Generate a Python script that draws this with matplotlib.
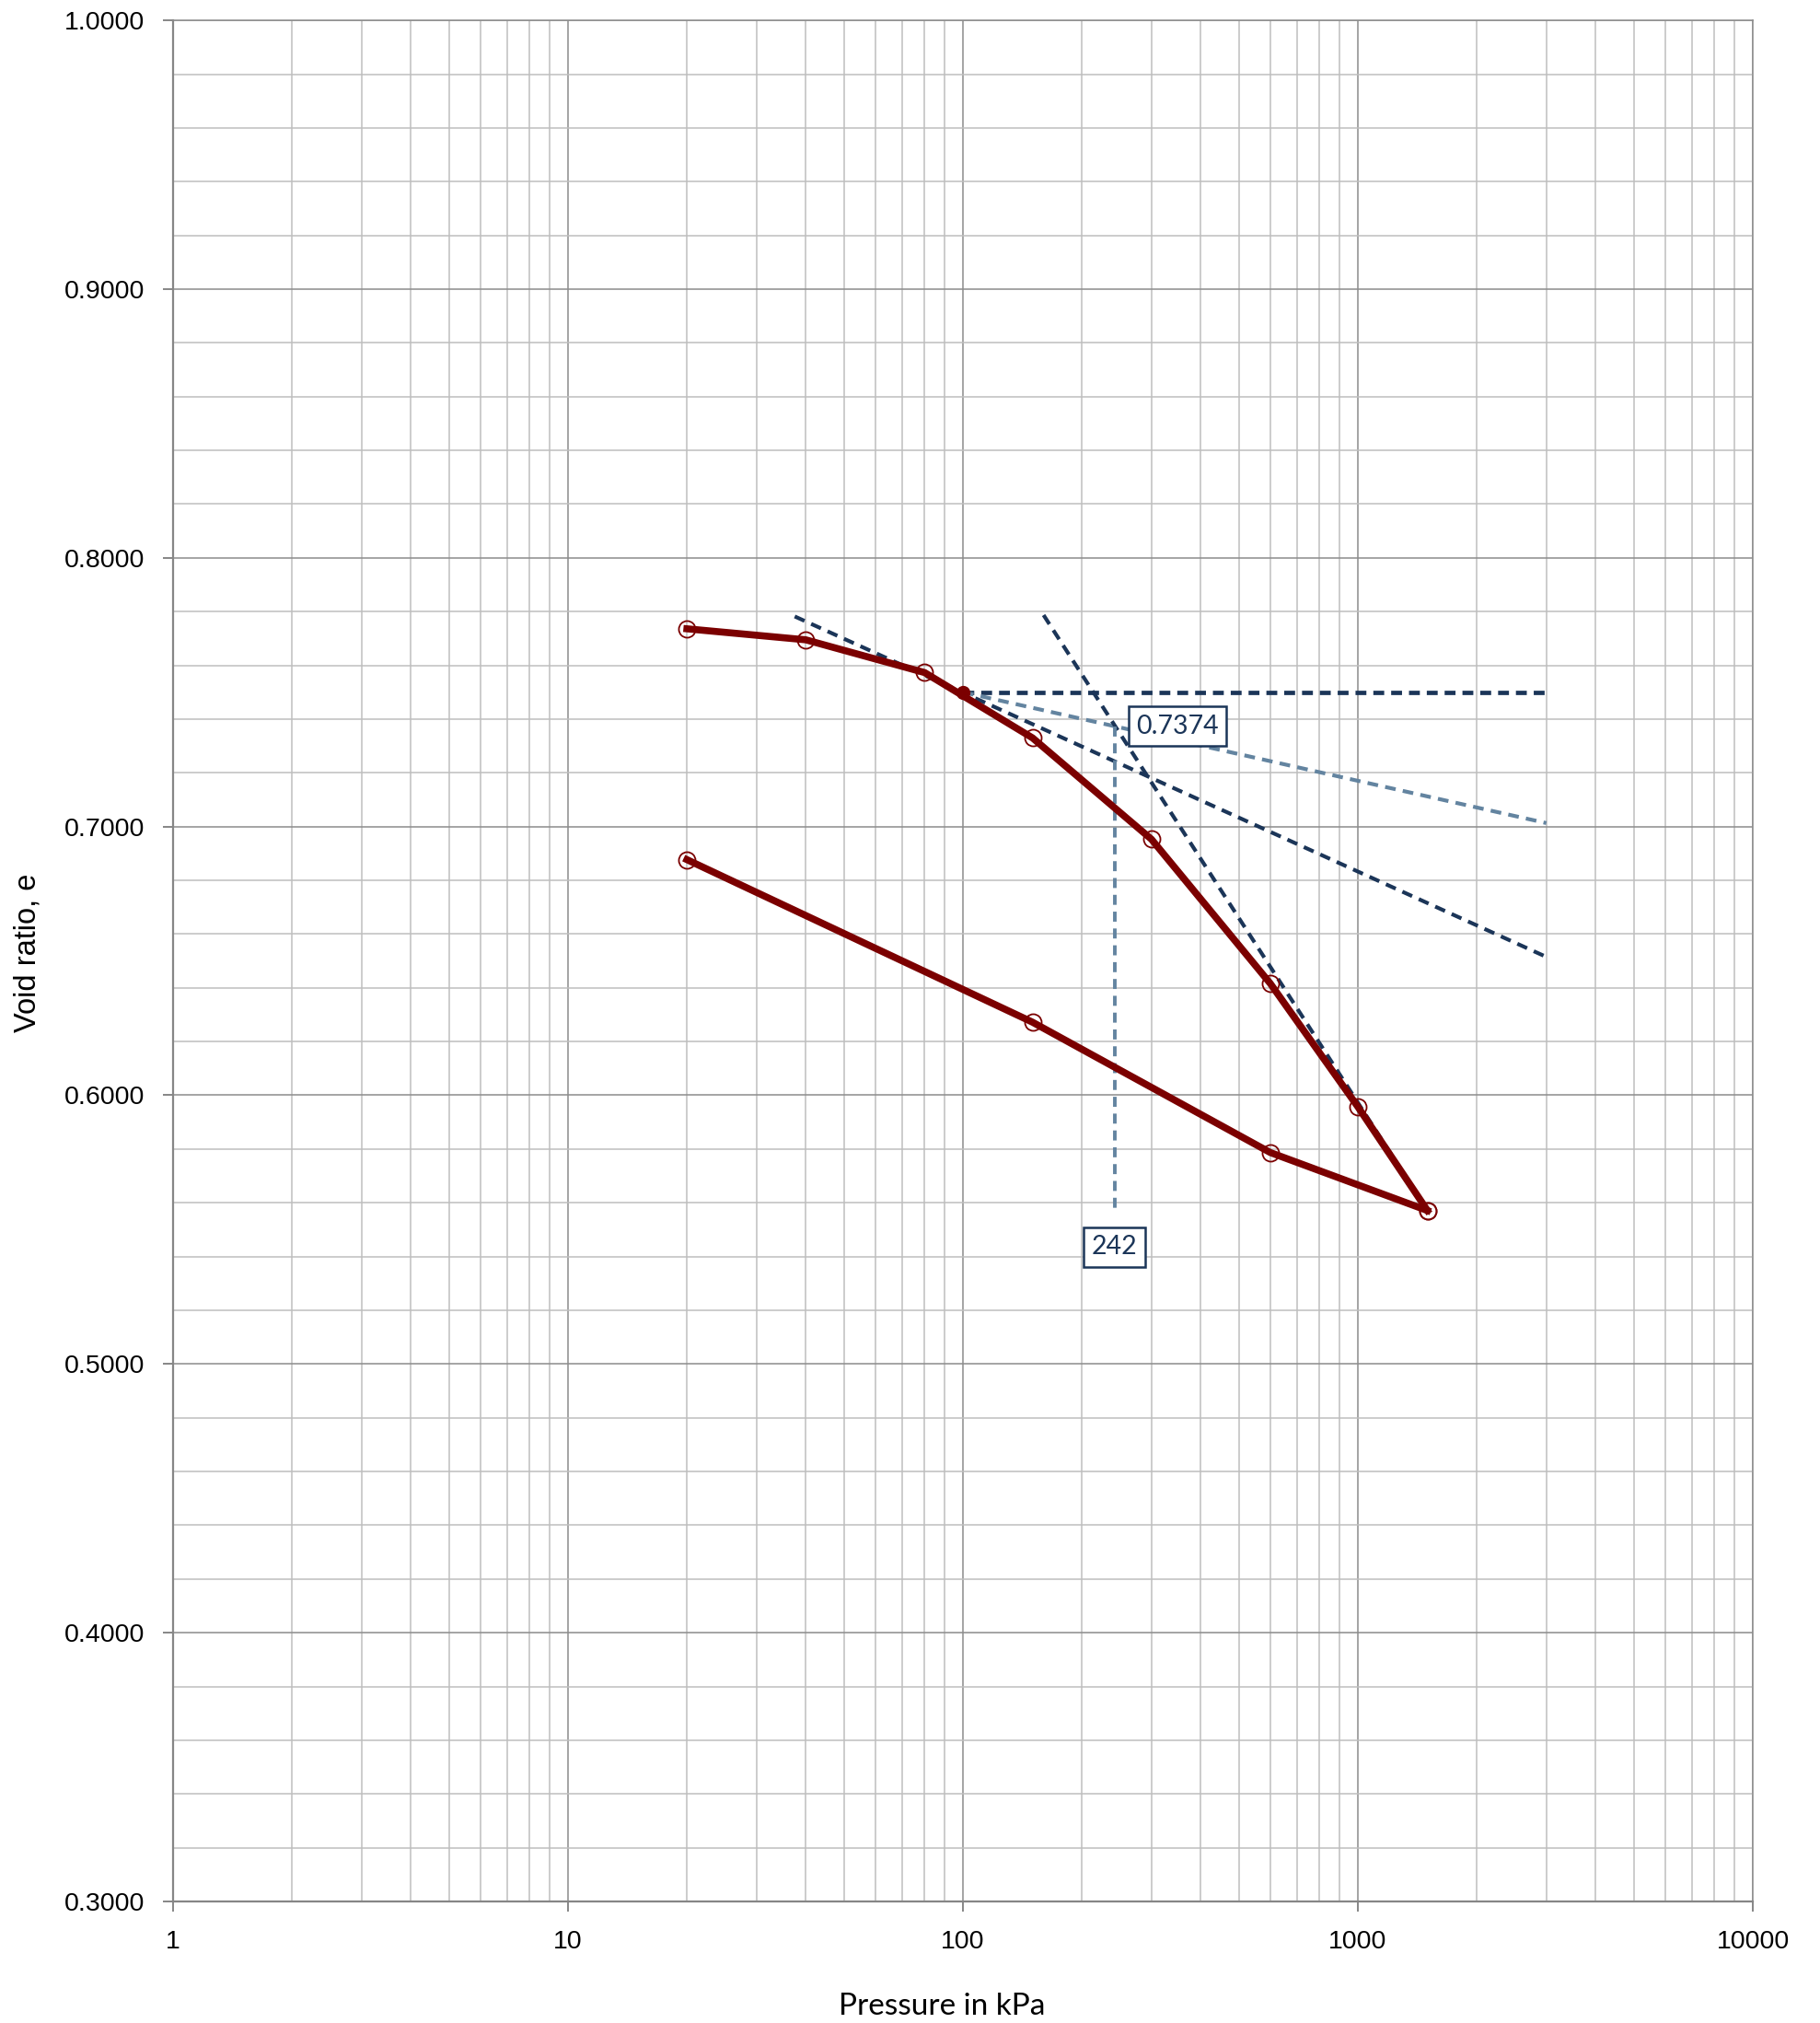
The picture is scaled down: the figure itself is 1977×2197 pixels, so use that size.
import numpy as np
import matplotlib
matplotlib.use("Agg")
import matplotlib.pyplot as plt
from matplotlib.ticker import LogLocator, MultipleLocator, FixedLocator, FuncFormatter

# e - log p data
load_p = [20, 40, 80, 150, 300, 600, 1000, 1500]
load_e = [0.7736, 0.7695, 0.7573, 0.7330, 0.6953, 0.6416, 0.5957, 0.5571]
unload_p = [1500, 600, 150, 20]
unload_e = [0.5571, 0.5787, 0.6272, 0.6877]

# Casagrande construction
max_curv_p = 100
max_curv_e = 0.7500
horiz_p = [100, 3000]
horiz_e = [0.7500, 0.7500]
tangent_p = [37.5, 3000]
tangent_e = [0.7782, 0.6515]
bisect_p = [100, 3000]
bisect_e = [0.7500, 0.7013]
virgin_p = [160, 1500]
virgin_e = [0.7787, 0.5571]
pc = 242
e_pc = 0.7374
drop_e = [0.7374, 0.5568]

red = "#7B0000"
navy = "#1B3558"
slate = "#6384A0"

fig = plt.figure(figsize=(19.77, 21.97), dpi=100)
ax = fig.add_axes([0.0951, 0.0601, 0.9631 - 0.0951, 0.9899 - 0.0601])

ax.set_xscale("log")
ax.set_xlim(1, 10000)
ax.set_ylim(0.3, 1.0)

ax.xaxis.set_major_locator(FixedLocator([1, 10, 100, 1000, 10000]))
ax.xaxis.set_minor_locator(LogLocator(base=10, subs=np.arange(2, 10)))
ax.xaxis.set_major_formatter(FuncFormatter(lambda v, p: "%d" % round(v)))
ax.xaxis.set_minor_formatter(FuncFormatter(lambda v, p: ""))
ax.yaxis.set_major_locator(MultipleLocator(0.1))
ax.yaxis.set_minor_locator(MultipleLocator(0.02))
ax.yaxis.set_major_formatter(FuncFormatter(lambda v, p: "%.4f" % v))

ax.grid(which="major", color="#8C8C8C", linewidth=1.1)
ax.grid(which="minor", color="#BEBEBE", linewidth=1.1)
ax.set_axisbelow(True)

for s in ["top", "right"]:
    ax.spines[s].set_color("#8C8C8C")
    ax.spines[s].set_linewidth(1.1)
for s in ["left", "bottom"]:
    ax.spines[s].set_color("#868686")
    ax.spines[s].set_linewidth(1.6)

ax.tick_params(which="major", length=8, width=1.4, color="#868686",
               labelsize=20.5, pad=14, labelfontfamily="Liberation Sans")
ax.tick_params(which="minor", length=0)

dash = (2.8, 1.9)
ax.plot(horiz_p, horiz_e, color=navy, lw=3.4, dashes=(2.5, 1.6), zorder=3)
ax.plot(tangent_p, tangent_e, color=navy, lw=3.0, dashes=dash, zorder=3)
ax.plot(bisect_p, bisect_e, color=slate, lw=3.0, dashes=dash, zorder=3)
ax.plot(virgin_p, virgin_e, color=navy, lw=3.0, dashes=dash, zorder=3)
ax.plot([pc, pc], drop_e, color=slate, lw=2.8, dashes=dash, zorder=3)

ax.plot(load_p, load_e, color=red, lw=5.5, marker="o", ms=13,
        mfc="none", mec=red, mew=1.3, zorder=4)
ax.plot(unload_p, unload_e, color=red, lw=5.5, marker="o", ms=13,
        mfc="none", mec=red, mew=1.3, zorder=4)
ax.plot([max_curv_p], [max_curv_e], "o", color=red, ms=10, zorder=5)

box = dict(boxstyle="square,pad=0.3", fc="white", ec=navy, lw=1.8)
ax.annotate("%.4f" % e_pc, xy=(pc, e_pc), xytext=(17, 0), textcoords="offset points",
            ha="left", va="center", fontsize=20.5, color=navy, family="Lato",
            bbox=box, zorder=6)
ax.annotate("%d" % pc, xy=(pc, drop_e[1]), xytext=(0, -28), textcoords="offset points",
            ha="center", va="center", fontsize=20.5, color=navy, family="Lato",
            bbox=box, zorder=6)

fig.text(0.5175, 0.0041, "Pressure in kPa", ha="center", va="baseline",
         fontsize=24, family="Lato")
fig.text(0.0152, 0.529, "Void ratio, e", ha="center", va="center", rotation=90,
         fontsize=23.5, family="Liberation Sans")

fig.savefig("out.png", dpi=100)
